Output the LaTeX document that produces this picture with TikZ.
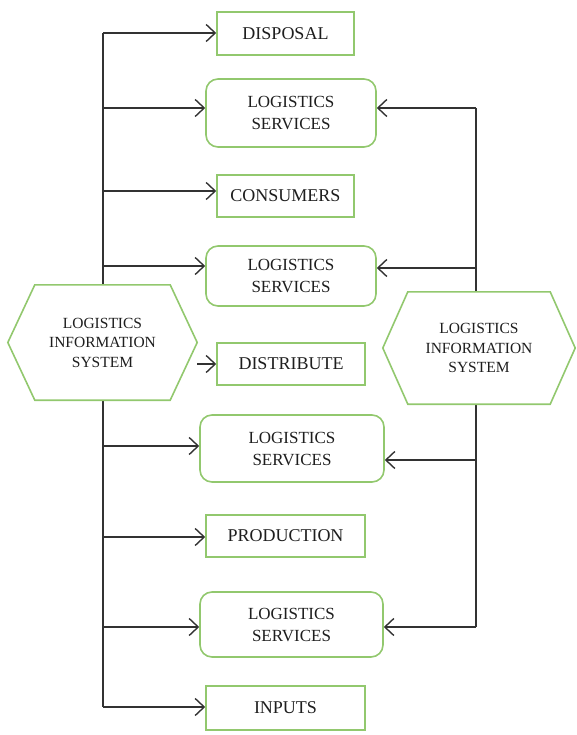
\documentclass[tikz,border=0pt]{standalone}
\usepackage{fontspec}
\setmainfont{Liberation Serif}
\usetikzlibrary{arrows.meta}
\definecolor{boxgreen}{RGB}{146,200,110}
\definecolor{linegray}{RGB}{50,50,50}
\definecolor{textgray}{RGB}{30,30,30}
\tikzset{
  plainbox/.style={draw=boxgreen, line width=1.6pt, fill=white, align=center, text=textgray, font=\fontsize{18}{22}\selectfont, inner sep=0pt},
  roundbox/.style={plainbox, rounded corners=12pt, font=\fontsize{17}{22}\selectfont},
  hexlabel/.style={align=center, text=textgray, font=\fontsize{15.5}{19.5}\selectfont, inner sep=0pt},
  hexline/.style={draw=boxgreen, line width=1.6pt, fill=white},
  conn/.style={draw=linegray, line width=1.3pt},
  arr/.style={conn, -{Straight Barb[length=9pt,width=17pt,line width=1.4pt]}},
}
\begin{document}
\begin{tikzpicture}[x=1pt,y=-1pt]
\useasboundingbox (0,0) rectangle (577,735);
% boxes
\node[plainbox, minimum width=137pt, minimum height=43pt] (disp) at (285.5,33.5) {DISPOSAL};
\node[roundbox, minimum width=170pt, minimum height=68pt] (ls1) at (291,113) {LOGISTICS\\SERVICES};
\node[plainbox, minimum width=137pt, minimum height=42pt] (cons) at (285.5,196) {CONSUMERS};
\node[roundbox, minimum width=170pt, minimum height=60pt] (ls2) at (291,276) {LOGISTICS\\SERVICES};
\node[plainbox, minimum width=148pt, minimum height=42pt] (dist) at (291,364) {DISTRIBUTE};
\node[roundbox, minimum width=184pt, minimum height=67pt] (ls3) at (292,448.5) {LOGISTICS\\SERVICES};
\node[plainbox, minimum width=159pt, minimum height=42pt] (prod) at (285.5,536) {PRODUCTION};
\node[roundbox, minimum width=183pt, minimum height=65pt] (ls4) at (291.5,624.5) {LOGISTICS\\SERVICES};
\node[plainbox, minimum width=159pt, minimum height=44pt] (inp) at (285.5,708) {INPUTS};
% left vertical line and coordinates
\coordinate (l1) at (103,33);
\coordinate (l2) at (103,108);
\coordinate (l3) at (103,191);
\coordinate (l4) at (103,266);
\coordinate (l5) at (103,446);
\coordinate (l6) at (103,537);
\coordinate (l7) at (103,627);
\coordinate (l8) at (103,707);
\draw[conn] (l1) -- (l8);
% right vertical line
\coordinate (r1) at (476,108);
\coordinate (r2) at (476,268);
\coordinate (r3) at (476,460);
\coordinate (r4) at (476,627);
\draw[conn] (r1) -- (r4);
% hexagons
\node[minimum width=189pt, minimum height=115pt, inner sep=0pt] (lhex) at (102.5,342.5) {};
\path[hexline] (lhex.west) -- ([xshift=27pt]lhex.north west) -- ([xshift=-27pt]lhex.north east) -- (lhex.east) -- ([xshift=-27pt]lhex.south east) -- ([xshift=27pt]lhex.south west) -- cycle;
\node[hexlabel] at (lhex.center) {LOGISTICS\\INFORMATION\\SYSTEM};
\node[minimum width=192pt, minimum height=112pt, inner sep=0pt] (rhex) at (479,348) {};
\path[hexline] (rhex.west) -- ([xshift=25pt]rhex.north west) -- ([xshift=-25pt]rhex.north east) -- (rhex.east) -- ([xshift=-25pt]rhex.south east) -- ([xshift=25pt]rhex.south west) -- cycle;
\node[hexlabel] at (rhex.center) {LOGISTICS\\INFORMATION\\SYSTEM};
% left arrows
\draw[arr] (l1) -- (l1 -| disp.west);
\draw[arr] (l2) -- (l2 -| ls1.west);
\draw[arr] (l3) -- (l3 -| cons.west);
\draw[arr] (l4) -- (l4 -| ls2.west);
\draw[arr] (lhex.east |- dist.west) -- (dist.west);
\draw[arr] (l5) -- (l5 -| ls3.west);
\draw[arr] (l6) -- (l6 -| prod.west);
\draw[arr] (l7) -- (l7 -| ls4.west);
\draw[arr] (l8) -- (l8 -| inp.west);
% right arrows
\draw[arr] (r1) -- (r1 -| ls1.east);
\draw[arr] (r2) -- (r2 -| ls2.east);
\draw[arr] (r3) -- (r3 -| ls3.east);
\draw[arr] (r4) -- (r4 -| ls4.east);
\end{tikzpicture}
\end{document}
